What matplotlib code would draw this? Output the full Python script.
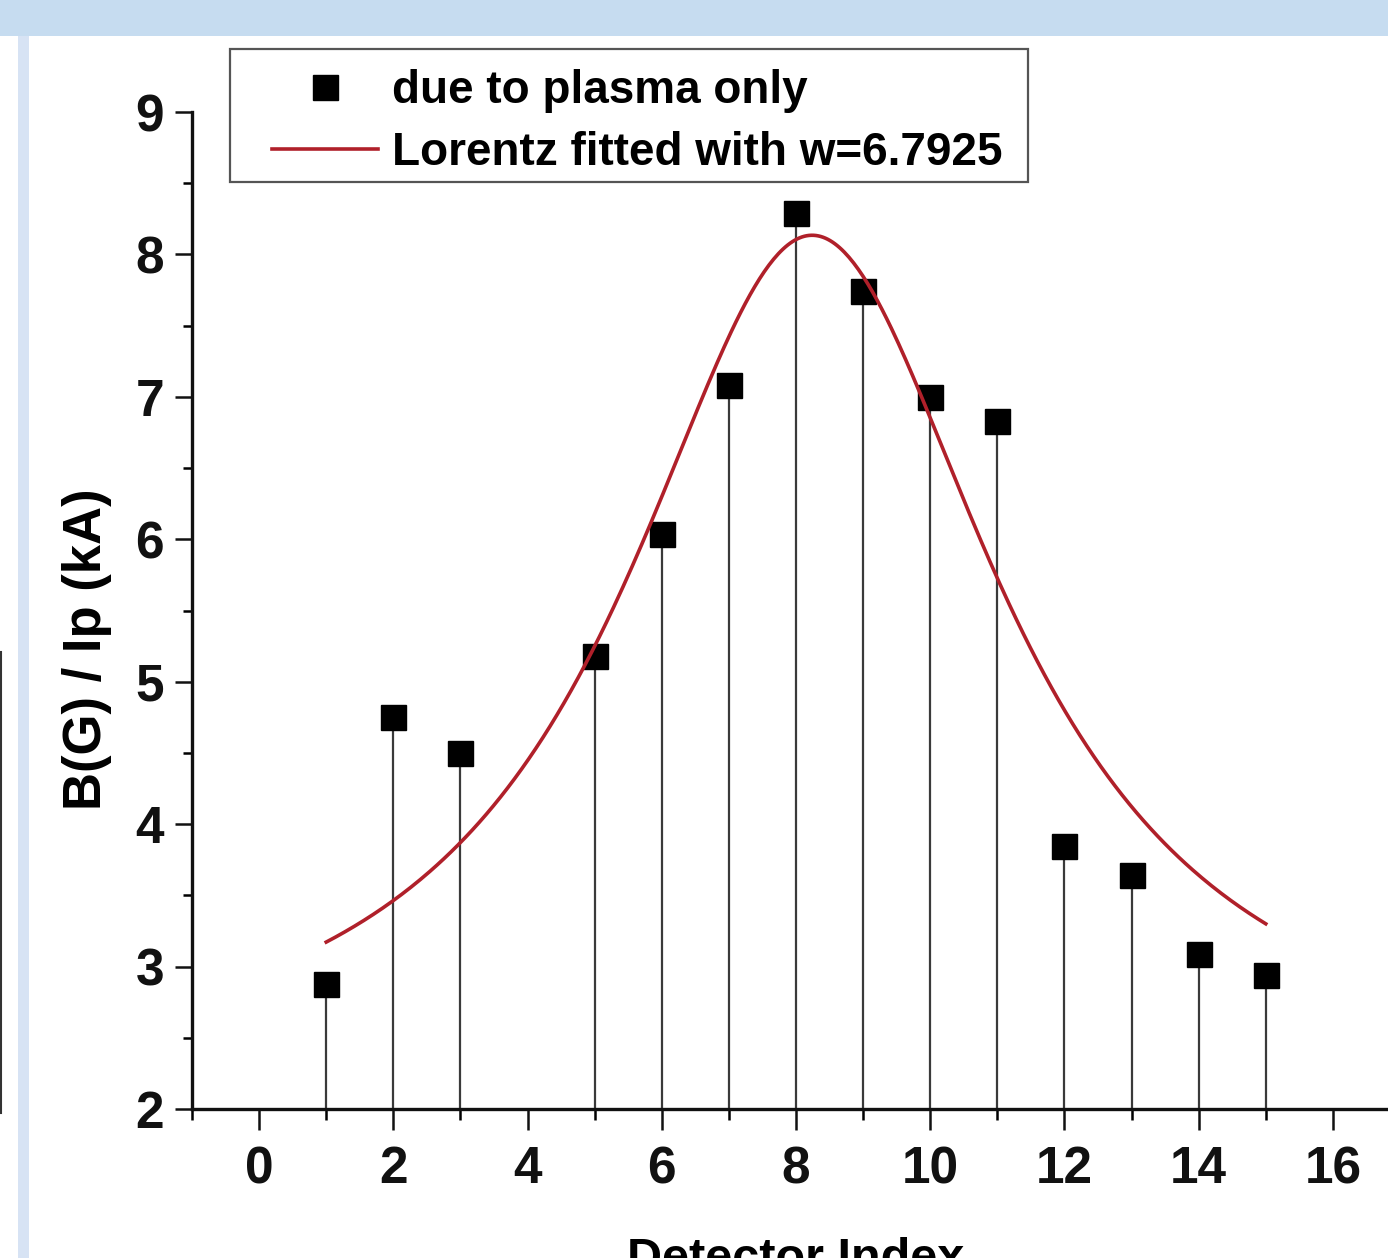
import numpy as np
import matplotlib
matplotlib.use('Agg')
import matplotlib.pyplot as plt
from matplotlib.patches import Rectangle
from matplotlib.lines import Line2D
from matplotlib.ticker import MultipleLocator

# measured field per detector (B / Ip), detector 4 missing
detector = [1, 2, 3, 5, 6, 7, 8, 9, 10, 11, 12, 13, 14, 15]
b_over_ip = [2.88, 4.75, 4.50, 5.18, 6.04, 7.08, 8.29, 7.74, 7.00, 6.83, 3.85, 3.64, 3.09, 2.94]

# Lorentz fit: y = y0 + (2A/pi) * w / (4(x-xc)^2 + w^2)
fit_w = 6.7925
fit_xc = 8.24
fit_y0 = 2.08
fit_area = 64.6
fit_span = (1, 15)

x_ticks = [0, 2, 4, 6, 8, 10, 12, 14, 16]
y_ticks = [2, 3, 4, 5, 6, 7, 8, 9]

W, H = 1388, 1258
plt.rcParams['font.family'] = ['Liberation Sans', 'DejaVu Sans']
plt.rcParams['font.weight'] = 'bold'

fig = plt.figure(figsize=(W / 100, H / 100), dpi=100)
fig.patch.set_facecolor('white')

# screenshot frame bits
fig.patches.append(Rectangle((0, 1 - 36 / H), 1, 36 / H, transform=fig.transFigure,
                             facecolor='#C6DCF0', edgecolor='none', zorder=0))
fig.patches.append(Rectangle((18 / W, 0), 11 / W, 1 - 36 / H, transform=fig.transFigure,
                             facecolor='#D7E3F4', edgecolor='none', zorder=0))
fig.lines.append(Line2D([0.8 / W, 0.8 / W], [1 - 1113 / H, 1 - 652 / H],
                        transform=fig.transFigure, color='#333333', lw=1.5))

ax = fig.add_axes([192 / W, 149 / H, 1208 / W, 997 / H])
ax.set_facecolor('white')

ax.vlines(detector, 2, b_over_ip, color='#3a3a3a', lw=1.6, zorder=2)
pts, = ax.plot(detector, b_over_ip, 's', color='black', ms=18, zorder=3,
               label='due to plasma only')

xs = np.linspace(fit_span[0], fit_span[1], 400)
ys = fit_y0 + (2 * fit_area / np.pi) * fit_w / (4 * (xs - fit_xc) ** 2 + fit_w ** 2)
fit_line, = ax.plot(xs, ys, color='#B0202A', lw=2.6, zorder=4,
                    label='Lorentz fitted with w=6.7925')

ax.set_xlim(-1, 17)
ax.set_ylim(2, 9)
ax.set_xticks(x_ticks)
ax.set_yticks(y_ticks)
ax.xaxis.set_minor_locator(MultipleLocator(1))
ax.yaxis.set_minor_locator(MultipleLocator(0.5))

for s in ['top', 'right']:
    ax.spines[s].set_visible(False)
for s in ['left', 'bottom']:
    ax.spines[s].set_linewidth(2.4)
    ax.spines[s].set_color('#111111')

ax.tick_params(axis='x', which='major', direction='out', length=15, width=1.8,
               pad=11, labelsize=37, colors='#111111')
ax.tick_params(axis='x', which='minor', direction='out', length=8, width=1.8)
ax.tick_params(axis='y', which='major', direction='out', length=12, width=1.8,
               pad=8, labelsize=37, colors='#111111')
ax.tick_params(axis='y', which='minor', direction='out', length=6.5, width=1.8)

ax.set_xlabel('Detector Index', fontsize=35, fontweight='bold')
ax.xaxis.set_label_coords(0.5, -0.128)
ax.set_ylabel('B(G) / Ip (kA)', fontsize=38, fontweight='bold')
ax.yaxis.set_label_coords(-0.066, 0.461)

# legend (frame drawn separately to get the wide side padding)
ax.legend(handles=[pts, fit_line], loc='upper left',
          bbox_to_anchor=(272 / W, 1 - 69 / H), bbox_transform=fig.transFigure,
          frameon=False, borderpad=0, borderaxespad=0, handlelength=2.31,
          handletextpad=0.3, labelspacing=0.4, prop={'size': 33, 'weight': 'bold'})
fig.patches.append(Rectangle((230 / W, 1 - 182 / H), 798 / W, 133 / H,
                             transform=fig.transFigure, fill=False,
                             edgecolor='#555555', lw=1.6, zorder=5))

fig.savefig('out.png', dpi=100, facecolor='white')
